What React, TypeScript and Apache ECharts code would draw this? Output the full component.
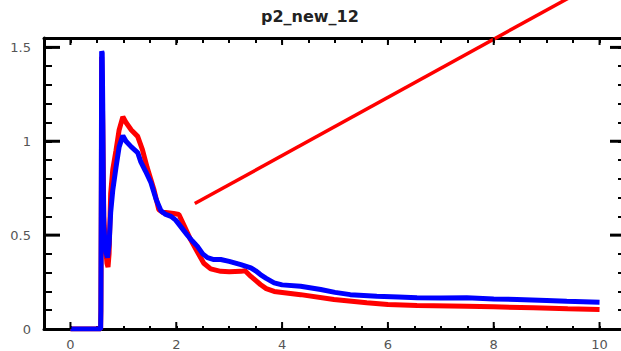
import React, { useEffect, useRef } from "react";
import * as echarts from "echarts";

const titleText = "p2_new_12";

const xMajorTicks = [0, 2, 4, 6, 8, 10];
const yMajorTicks = [0.5, 1, 1.5];

const blueX = [0, 0.57, 0.575, 0.58, 0.585, 0.59, 0.6, 0.61, 0.62, 0.63, 0.65, 0.68, 0.7, 0.73, 0.76, 0.8, 0.86, 0.92, 0.99, 1.05, 1.15, 1.27, 1.33, 1.42, 1.52, 1.62, 1.71, 1.8, 1.9, 1.99, 2.1, 2.21, 2.3, 2.4, 2.5, 2.59, 2.71, 2.84, 3.0, 3.22, 3.41, 3.5, 3.59, 3.7, 3.85, 4.0, 4.35, 4.73, 5.0, 5.29, 5.79, 6.2, 6.55, 7.0, 7.49, 8.0, 8.44, 9.0, 9.38, 10.0];
const blueY = [0, 0, 0.1, 0.5, 1.0, 1.48, 1.47, 1.2, 0.8, 0.55, 0.47, 0.4, 0.38, 0.45, 0.62, 0.74, 0.86, 0.97, 1.03, 1.0, 0.97, 0.94, 0.89, 0.84, 0.78, 0.69, 0.63, 0.61, 0.6, 0.58, 0.54, 0.5, 0.47, 0.44, 0.4, 0.38, 0.37, 0.37, 0.36, 0.343, 0.326, 0.31, 0.29, 0.27, 0.246, 0.235, 0.228, 0.21, 0.195, 0.183, 0.174, 0.17, 0.166, 0.165, 0.166, 0.16, 0.157, 0.152, 0.148, 0.143];

const redX = [0, 0.57, 0.575, 0.585, 0.59, 0.6, 0.61, 0.63, 0.66, 0.69, 0.71, 0.73, 0.76, 0.8, 0.86, 0.92, 0.99, 1.05, 1.15, 1.27, 1.36, 1.45, 1.58, 1.67, 1.75, 1.8, 1.95, 2.05, 2.15, 2.27, 2.4, 2.52, 2.65, 2.84, 3.0, 3.22, 3.3, 3.41, 3.59, 3.7, 3.85, 4.35, 4.98, 5.6, 6.0, 6.55, 7.49, 8.0, 8.75, 9.4, 10.0];
const redY = [0, 0, 0.1, 0.8, 1.45, 1.45, 1.1, 0.6, 0.45, 0.35, 0.33, 0.4, 0.72, 0.85, 0.95, 1.06, 1.13, 1.1, 1.06, 1.026, 0.955, 0.86, 0.74, 0.635, 0.62, 0.62, 0.615, 0.61, 0.55, 0.476, 0.41, 0.35, 0.32, 0.307, 0.305, 0.307, 0.31, 0.28, 0.237, 0.215, 0.2, 0.183, 0.157, 0.14, 0.13, 0.125, 0.121, 0.118, 0.113, 0.108, 0.104];

const fitX = [2.35, 9.5];
const fitY = [0.668, 1.776];

const X_MIN = -0.5;
const X_MAX = 10.5;
const Y_MIN = 0;
const Y_MAX = 1.55;

const zip = (xs: number[], ys: number[]) => xs.map((x, i) => [x, ys[i]]);

const FONT = "DejaVu Sans";
const LABEL_COLOR = "#555";

export default function App() {
  const ref = useRef<HTMLDivElement>(null);
  useEffect(() => {
    if (!ref.current) return;
    const chart = echarts.init(ref.current, undefined, { renderer: "svg" });
    const xBase = { type: "value" as const, min: X_MIN, max: X_MAX, splitLine: { show: false } };
    const yBase = { type: "value" as const, min: Y_MIN, max: Y_MAX, splitLine: { show: false } };
    const line3 = { show: true, onZero: false, lineStyle: { color: "#000", width: 3 } };
    chart.setOption({
      animation: false,
      backgroundColor: "#fff",
      title: {
        text: titleText,
        left: 261,
        top: 8,
        padding: 0,
        textStyle: { fontFamily: FONT, fontSize: 16, fontWeight: "bold", color: "#222" },
      },
      grid: { left: 44, top: 38, width: 582, height: 291, containLabel: false },
      xAxis: [
        {
          ...xBase,
          position: "bottom",
          interval: 0.5,
          axisLine: line3,
          axisTick: { show: true, inside: true, length: 3, lineStyle: { color: "#000", width: 2 } },
          axisLabel: {
            show: true,
            margin: 9,
            color: LABEL_COLOR,
            fontFamily: FONT,
            fontSize: 13,
            formatter: (v: number) => {
              const r = Math.round(v * 2);
              return r % 4 === 0 && r >= 0 && r <= 20 ? String(r / 2) : "";
            },
          },
        },
        {
          ...xBase,
          position: "top",
          interval: 0.5,
          axisLine: line3,
          axisTick: { show: true, inside: true, length: 5, lineStyle: { color: "#000", width: 2 } },
          axisLabel: { show: false },
        },
      ],
      yAxis: [
        {
          ...yBase,
          position: "left",
          interval: 0.1,
          axisLine: line3,
          axisTick: { show: true, inside: true, length: 8, lineStyle: { color: "#000", width: 2 } },
          axisLabel: {
            show: true,
            margin: 13,
            color: LABEL_COLOR,
            fontFamily: FONT,
            fontSize: 13,
            formatter: (v: number) => {
              const r = Math.round(v * 10);
              return r % 5 === 0 && r <= 15 ? String(r / 10) : "";
            },
          },
        },
        {
          ...yBase,
          position: "right",
          interval: 0.1,
          axisLine: line3,
          axisTick: { show: true, inside: true, length: 8, lineStyle: { color: "#000", width: 2 } },
          axisLabel: { show: false },
        },
      ],
      series: [
        {
          type: "line",
          name: "red",
          data: zip(redX, redY),
          showSymbol: false,
          lineStyle: { color: "#ff0000", width: 5 },
          itemStyle: { color: "#ff0000" },
        },
        {
          type: "line",
          name: "blue",
          data: zip(blueX, blueY),
          showSymbol: false,
          lineStyle: { color: "#0000ff", width: 5 },
          itemStyle: { color: "#0000ff" },
        },
        {
          type: "line",
          name: "fit",
          data: zip(fitX, fitY),
          showSymbol: false,
          clip: false,
          lineStyle: { color: "#ff0000", width: 3.5 },
          itemStyle: { color: "#ff0000" },
        },
      ],
    });

    // Major ticks, positioned through the chart's own scales
    const finder = { xAxisIndex: 0, yAxisIndex: 0 };
    const toPx = (p: number[]) => chart.convertToPixel(finder, p) as number[];
    const graphics: any[] = [];
    xMajorTicks.forEach((v) => {
      const b = toPx([v, Y_MIN]);
      const t = toPx([v, Y_MAX]);
      if (!b || !t) return;
      graphics.push({ type: "line", z: 100, shape: { x1: b[0], y1: b[1], x2: b[0], y2: b[1] - 7 }, style: { stroke: "#000", lineWidth: 2 } });
      graphics.push({ type: "line", z: 100, shape: { x1: t[0], y1: t[1], x2: t[0], y2: t[1] + 7 }, style: { stroke: "#000", lineWidth: 2 } });
    });
    yMajorTicks.forEach((v) => {
      const l = toPx([X_MIN, v]);
      const r = toPx([X_MAX, v]);
      if (!l || !r) return;
      graphics.push({ type: "line", z: 100, shape: { x1: l[0], y1: l[1], x2: l[0] + 16, y2: l[1] }, style: { stroke: "#000", lineWidth: 3 } });
      graphics.push({ type: "line", z: 100, shape: { x1: r[0], y1: r[1], x2: r[0] - 16, y2: r[1] }, style: { stroke: "#000", lineWidth: 3 } });
    });
    chart.setOption({ graphic: graphics });

    return () => chart.dispose();
  }, []);
  return (
    <div
      ref={ref}
      style={{ position: "fixed", left: 0, top: 0, width: 640, height: 351, background: "#fff" }}
    />
  );
}
